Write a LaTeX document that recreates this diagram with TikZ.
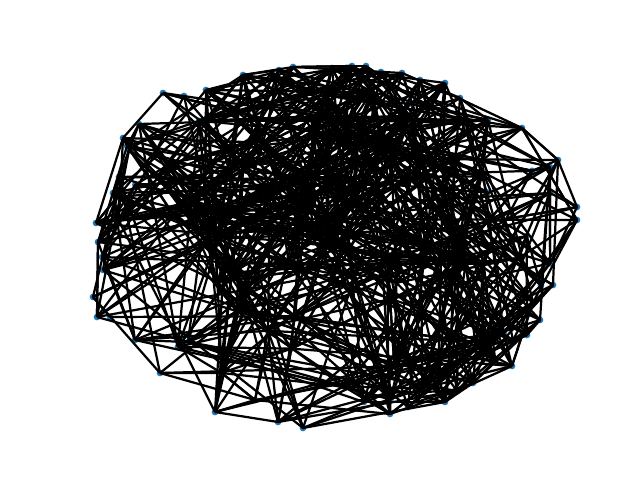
\documentclass[tikz,border=0pt]{standalone}
\definecolor{mplblue}{HTML}{1F77B4}
\tikzset{
  edge/.style={draw=black, line width=1.6pt},
  dot/.style={circle, fill=mplblue, inner sep=0pt, minimum size=4.8pt}
}
\begin{document}
\begin{tikzpicture}[x=0.72pt,y=-0.72pt]
\useasboundingbox (0,0) rectangle (640,480);
\def\N{147}
% outer nodes
\foreach \px/\py [count=\i] in {163/93,184/96,206/90,243/75,272/73,279/70,293/67,332/68,352/66,366/66,
  381/72,402/73,420/80,445/83,460/98,488/120,522/128,558/160,550/167,550/193,
  577/207,577/220,553/285,533/302,540/320,527/335,513/340,512/366,477/358,473/383,
  457/391,445/402,417/402,408/407,390/414,303/428,278/422,255/400,215/412,188/342,
  160/373,135/340,110/317,97/317,93/297,103/270,102/257,98/242,96/223,117/197,
  113/193,119/177,129/150,127/146,123/138,139/124,364/402}
  {\coordinate (n\i) at (\px,\py);}
% inner nodes
\pgfmathsetseed{4242}
\foreach \i in {58,...,\N}{
  \pgfmathsetmacro\rr{0.93*sqrt(rnd)}
  \pgfmathsetmacro\tt{360*rnd}
  \coordinate (n\i) at ({335+240*\rr*cos(\tt)},{247+178*\rr*sin(\tt)});
}
% dots (drawn below the edges)
\foreach \i in {1,...,\N}{\node[dot] (d\i) at (n\i) {};}
% edges
\pgfmathsetseed{12345}
\foreach \k in {1,...,4000}{
  \pgfmathrandominteger{\ea}{1}{\N}
  \pgfmathrandominteger{\eb}{1}{\N}
  \ifnum\ea=\eb\relax\else
    \pgfpointdiff{\pgfpointanchor{n\ea}{center}}{\pgfpointanchor{n\eb}{center}}
    \pgfgetlastxy{\dx}{\dy}
    \pgfmathsetmacro\acc{rnd<exp(-veclen(\dx,\dy)/(0.72*115))}
    \ifdim\acc pt>0.5pt\relax
      \draw[edge] (n\ea) -- (n\eb);
    \fi
  \fi
}
\end{tikzpicture}
\end{document}
